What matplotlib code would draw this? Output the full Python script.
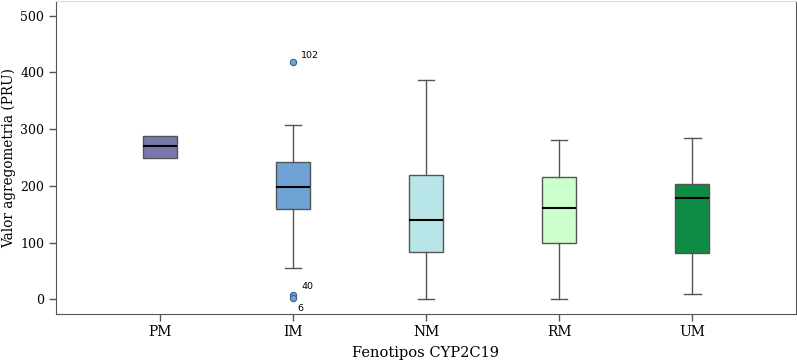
import matplotlib
matplotlib.use("Agg")
import matplotlib.pyplot as plt

categories = ['PM', 'IM', 'NM', 'RM', 'UM']
whislo = [250, 56, 1, 1, 9]
q1 = [250, 159, 84, 99, 81]
med = [270, 198, 140, 161, 179]
q3 = [288, 242, 219, 215, 204]
whishi = [288, 307, 386, 280, 285]
colors = ['#7878aa', '#6fa3d6', '#b8e6e8', '#ccffcc', '#0e8c45']
outlier_group = 'IM'
outlier_values = [418, 8, 3]
outlier_labels = ['102', '40', '6']
yticks = [0, 100, 200, 300, 400, 500]

fig = plt.figure(figsize=(7.97, 3.64), dpi=100)
ax = fig.add_axes([56/797, 50/364, 740/797, 313/364])

stats = []
for i, c in enumerate(categories):
    stats.append(dict(label=c, whislo=whislo[i], q1=q1[i], med=med[i],
                      q3=q3[i], whishi=whishi[i], fliers=[]))

bp = ax.bxp(stats, positions=range(len(categories)), widths=0.256,
            patch_artist=True, showfliers=False,
            boxprops=dict(edgecolor='#555555', linewidth=1.0),
            whiskerprops=dict(color='#555555', linewidth=1.0),
            capprops=dict(color='#555555', linewidth=1.0),
            medianprops=dict(color='black', linewidth=1.5),
            capwidths=0.125)
for patch, col in zip(bp['boxes'], colors):
    patch.set_facecolor(col)
# PM has no whiskers visible
idx = categories.index('PM')
for art in bp['whiskers'][2*idx:2*idx+2] + bp['caps'][2*idx:2*idx+2]:
    art.set_visible(False)

xo = categories.index(outlier_group)
ax.plot([xo]*len(outlier_values), outlier_values, 'o', ms=4.5,
        mfc=colors[1], mec='#3a5f8a', mew=0.8, zorder=5)
offsets = [(6, 5), (6, 6), (3, -8)]
for v, lab, off in zip(outlier_values, outlier_labels, offsets):
    ax.annotate(lab, (xo, v), xytext=off, textcoords='offset points',
                fontsize=6.8, family='DejaVu Sans', ha='left', va='center')

ax.set_xlim(-0.78, 4.78)
ax.set_ylim(-26, 526)
ax.set_yticks(yticks)
ax.set_xticks(range(len(categories)))
ax.set_xticklabels(categories, fontsize=10, family='DejaVu Serif')
for t in ax.get_yticklabels():
    t.set_fontsize(9)
    t.set_family('DejaVu Serif')
ax.tick_params(axis='both', direction='out', length=5, color='#555555', width=1)
ax.tick_params(axis='x', pad=3)
ax.set_ylabel('Valor agregometria (PRU)', fontsize=9.8, family='DejaVu Serif', labelpad=3)
ax.set_xlabel('Fenotipos CYP2C19', fontsize=10.5, family='DejaVu Serif', labelpad=5)
for s in ['left', 'bottom', 'right']:
    ax.spines[s].set_color('#555555')
ax.spines['top'].set_color('#dddddd')

fig.savefig('out.png', dpi=100)
